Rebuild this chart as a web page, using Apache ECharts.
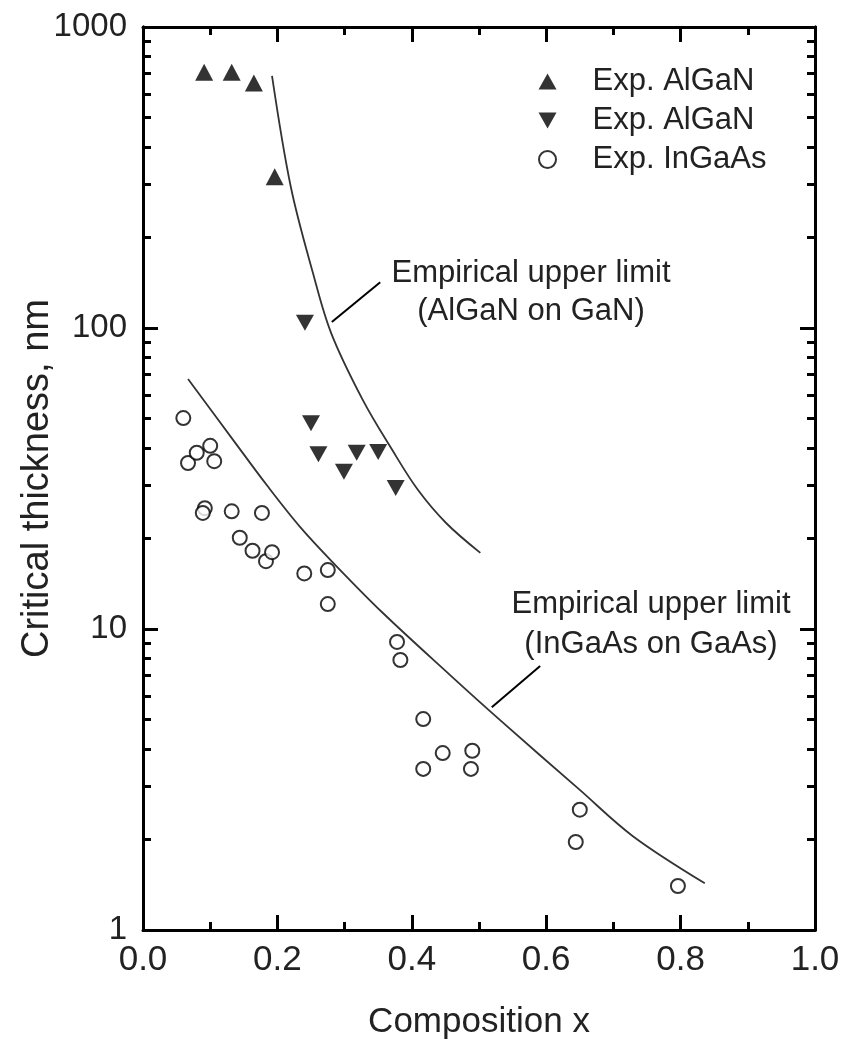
<!DOCTYPE html>
<html>
<head>
<meta charset="utf-8">
<script src="https://cdn.jsdelivr.net/npm/echarts@6/dist/echarts.min.js"></script>
<style>
  html, body { margin: 0; padding: 0; background: #fff; }
  #chart { width: 843px; height: 1046px; }
</style>
</head>
<body>
<div id="chart"></div>
<script>
// Exp. AlGaN (up triangles)
const upX = [0.091, 0.132, 0.165, 0.196]
const upY = [708, 708, 652, 318]
// Exp. AlGaN (down triangles)
const downX = [0.241, 0.250, 0.261, 0.299, 0.318, 0.350, 0.376]
const downY = [104, 48.3, 38.1, 33.3, 38.5, 38.7, 29.4]
// Exp. InGaAs (open circles)
const inX = [0.060, 0.067, 0.080, 0.100, 0.106, 0.092, 0.089, 0.132, 0.177, 0.144, 0.163, 0.183, 0.192,
  0.240, 0.275, 0.275, 0.378, 0.383, 0.417, 0.417, 0.446, 0.490, 0.488, 0.650, 0.644, 0.796]
const inY = [50.2, 35.6, 38.5, 40.6, 36.1, 25.2, 24.3, 24.6, 24.3, 20.1, 18.2, 16.8, 18.0,
  15.3, 15.7, 12.1, 9.06, 7.89, 5.02, 3.43, 3.87, 3.94, 3.43, 2.51, 1.96, 1.40]
// empirical upper limits
const algaLimX = [0.192, 0.220, 0.253, 0.280, 0.327, 0.371, 0.409, 0.451, 0.502]
const algaLimY = [688, 294, 152, 96.2, 57.7, 39.3, 29.0, 22.5, 17.9]
const ingaLimX = [0.067, 0.134, 0.185, 0.234, 0.283, 0.357, 0.457, 0.531, 0.650, 0.729, 0.836]
const ingaLimY = [67.7, 42.5, 29.9, 21.8, 16.6, 11.3, 7.03, 4.99, 2.92, 2.05, 1.43]
// leader lines of the two notes, in data units
const note1Line = [[0.353, 142], [0.281, 104.7]]
const note2Line = [[0.591, 7.53], [0.519, 5.5]]

const yMajor = [1, 10, 100, 1000]
const yMinor = []
for (const d of [1, 10, 100]) for (let k = 2; k <= 9; k++) yMinor.push(d * k)

const zip = (xs, ys) => xs.map((x, i) => [x, ys[i]])

const txt = '#222'
const font = 'Liberation Sans, Arial, Helvetica, sans-serif'
const upTri = 'path://M10,0 L20,18 L0,18 Z'
const downTri = 'path://M0,0 L20,0 L10,18 Z'

const chart = echarts.init(document.getElementById('chart'))

const xBase = {
  type: 'value', min: 0, max: 1, interval: 0.2,
  axisLine: { show: true, onZero: false, lineStyle: { color: '#000', width: 3 } },
  axisTick: { show: true, inside: true, length: 15, lineStyle: { color: '#000', width: 3 } },
  minorTick: { show: true, splitNumber: 2, length: 8, lineStyle: { color: '#000', width: 3 } },
  splitLine: { show: false },
}
const yBase = {
  type: 'log', logBase: 10, min: 1, max: 1000,
  axisLine: { show: true, onZero: false, lineStyle: { color: '#000', width: 3 } },
  splitLine: { show: false },
  minorSplitLine: { show: false },
}

chart.setOption({
  animation: false,
  textStyle: { fontFamily: font },
  grid: { left: 143, right: 28, top: 27, bottom: 116, outerBoundsMode: 'none', containLabel: false },
  legend: {
    orient: 'vertical',
    left: 538, top: 66,
    padding: 0,
    itemWidth: 18, itemHeight: 17, itemGap: 8,
    selectedMode: false,
    data: ['Exp. AlGaN', 'Exp. AlGaN ', 'Exp. InGaAs'],
    textStyle: { fontSize: 31, lineHeight: 31, color: txt, fontFamily: font, padding: [0, 0, 0, 31] },
  },
  xAxis: [
    Object.assign({}, xBase, {
      position: 'bottom',
      name: 'Composition x', nameLocation: 'middle', nameGap: 75, nameMoveOverlap: false,
      nameTextStyle: { fontSize: 35, color: txt, fontFamily: font },
      axisLabel: { fontSize: 35, color: txt, margin: 13, fontFamily: font,
        formatter: v => v.toFixed(1) },
    }),
    Object.assign({}, xBase, { position: 'top', axisLabel: { show: false } }),
  ],
  yAxis: [
    Object.assign({}, yBase, {
      position: 'left',
      name: 'Critical thickness, nm', nameLocation: 'middle', nameGap: 86, nameMoveOverlap: false,
      nameTextStyle: { fontSize: 38, color: txt, fontFamily: font },
      axisLabel: { fontSize: 33, color: txt, margin: 16, fontFamily: font, customValues: yMajor,
        formatter: v => String(v) },
      axisTick: { show: true, inside: true, length: 15, customValues: yMajor,
        lineStyle: { color: '#000', width: 3 } },
    }),
    Object.assign({}, yBase, {
      position: 'left',
      axisLabel: { show: false },
      axisTick: { show: true, inside: true, length: 8, customValues: yMinor,
        lineStyle: { color: '#000', width: 3 } },
    }),
    Object.assign({}, yBase, {
      position: 'right',
      axisLabel: { show: false },
      axisTick: { show: true, inside: true, length: 15, customValues: yMajor,
        lineStyle: { color: '#000', width: 3 } },
    }),
    Object.assign({}, yBase, {
      position: 'right',
      axisLabel: { show: false },
      axisTick: { show: true, inside: true, length: 8, customValues: yMinor,
        lineStyle: { color: '#000', width: 3 } },
    }),
  ],
  series: [
    {
      name: 'limit AlGaN', type: 'line', smooth: 0.35, showSymbol: false, symbol: 'none',
      data: zip(algaLimX, algaLimY),
      lineStyle: { color: '#333', width: 1.8 },
      markLine: {
        silent: true, symbol: 'none', label: { show: false },
        lineStyle: { color: '#000', width: 2, type: 'solid' },
        data: [[{ coord: note1Line[0] }, { coord: note1Line[1] }]],
      },
    },
    {
      name: 'limit InGaAs', type: 'line', smooth: 0.35, showSymbol: false, symbol: 'none',
      data: zip(ingaLimX, ingaLimY),
      lineStyle: { color: '#333', width: 1.8 },
      markLine: {
        silent: true, symbol: 'none', label: { show: false },
        lineStyle: { color: '#000', width: 2, type: 'solid' },
        data: [[{ coord: note2Line[0] }, { coord: note2Line[1] }]],
      },
    },
    {
      name: 'Exp. AlGaN', type: 'scatter', symbol: upTri, symbolSize: [18, 17],
      data: zip(upX, upY), itemStyle: { color: '#000' }, z: 5,
    },
    {
      name: 'Exp. AlGaN ', type: 'scatter', symbol: downTri, symbolSize: [18, 16],
      data: zip(downX, downY), itemStyle: { color: '#000' }, z: 5,
    },
    {
      name: 'Exp. InGaAs', type: 'scatter', symbol: 'circle', symbolSize: 14,
      data: zip(inX, inY),
      itemStyle: { color: '#fff', borderColor: '#000', borderWidth: 2 }, z: 5,
    },
  ],
  graphic: [
    {
      type: 'text', x: 531, y: 254,
      style: { text: 'Empirical upper limit\n(AlGaN on GaN)', align: 'center',
        fill: txt, font: '31px ' + font, lineHeight: 38 },
    },
    {
      type: 'text', x: 651, y: 584,
      style: { text: 'Empirical upper limit\n(InGaAs on GaAs)', align: 'center',
        fill: txt, font: '31px ' + font, lineHeight: 40 },
    },
  ],
})
</script>
</body>
</html>
